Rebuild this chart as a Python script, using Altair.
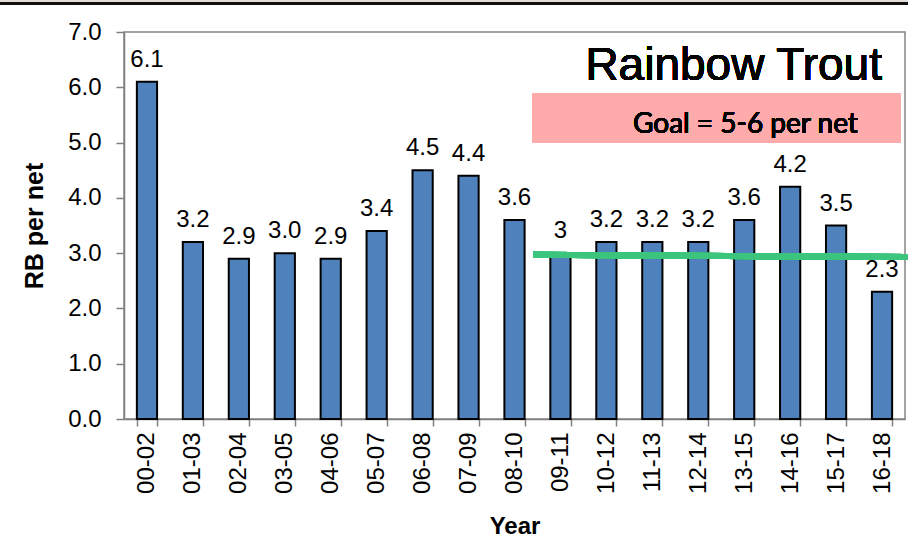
import altair as alt
import pandas as pd

# Rainbow trout catch per net, three-year rolling periods
periods = ["00-02", "01-03", "02-04", "03-05", "04-06", "05-07", "06-08", "07-09",
           "08-10", "09-11", "10-12", "11-13", "12-14", "13-15", "14-16", "15-17", "16-18"]
rb_per_net = [6.1, 3.2, 2.9, 3.0, 2.9, 3.4, 4.5, 4.4, 3.6, 3.0, 3.2, 3.2, 3.2, 3.6, 4.2, 3.5, 2.3]
value_labels = ["6.1", "3.2", "2.9", "3.0", "2.9", "3.4", "4.5", "4.4", "3.6", "3",
                "3.2", "3.2", "3.2", "3.6", "4.2", "3.5", "2.3"]

# recent-period reference line (start and end level)
ref_start, ref_end = 2.97, 2.93

df = pd.DataFrame({"period": periods, "value": rb_per_net, "label": value_labels})

W, H = 781, 387
FONT = "Liberation Sans"

x_enc = alt.X(
    "period:N",
    sort=periods,
    title="Year",
    scale=alt.Scale(paddingInner=0.56, paddingOuter=0.28),
    axis=alt.Axis(
        labelAngle=-90, labelAlign="right", labelBaseline="middle",
        labelFontSize=24, labelFont=FONT, labelColor="black", labelPadding=6,
        tickBand="extent", tickSize=7, tickColor="#808080", tickWidth=1.5,
        domainColor="#808080", domainWidth=1.5,
        titleFont=FONT, titleFontSize=24, titleFontWeight="bold", titleColor="black",
        titlePadding=21,
    ),
)
y_enc = alt.Y(
    "value:Q",
    title="RB per net",
    scale=alt.Scale(domain=[0, 7], nice=False, zero=True),
    axis=alt.Axis(
        values=[0, 1, 2, 3, 4, 5, 6, 7], format=".1f", grid=False,
        labelFontSize=24, labelFont=FONT, labelColor="black", labelPadding=15,
        tickSize=8, tickColor="#808080", tickWidth=1.5,
        domainColor="#808080", domainWidth=1.5,
        titleFont=FONT, titleFontSize=25, titleFontWeight="bold", titleColor="black",
        titlePadding=20,
    ),
)

bars = alt.Chart(df).mark_bar(
    color="#4F81BD", stroke="black", strokeWidth=2
).encode(x=x_enc, y=y_enc)

labels = alt.Chart(df).mark_text(
    font=FONT, fontSize=24, fontWeight=400, color="black", baseline="alphabetic", dy=-15
).encode(x=alt.X("period:N", sort=periods), y="value:Q", text="label:N")

ref_line = alt.Chart(df).mark_rule(
    color="#3CC47C", strokeWidth=6, opacity=0.85, strokeCap="butt"
).encode(
    x=alt.value(409), x2=alt.value(784),
    y=alt.datum(ref_start), y2=alt.datum(ref_end),
)

goal_box = alt.Chart(df).mark_rect(color="#FFABAB").encode(
    x=alt.value(408), x2=alt.value(777), y=alt.value(61), y2=alt.value(111)
)
goal_text = alt.Chart(df).mark_text(
    text="Goal = 5-6 per net", font="Lato", fontSize=28, fontWeight=400, color="black",
    align="left", baseline="alphabetic"
).encode(x=alt.value(509), y=alt.value(101))

species_title = alt.Chart(df).mark_text(
    text="Rainbow Trout", font=FONT, fontSize=46, fontWeight=400, color="black",
    align="right", baseline="alphabetic"
).encode(x=alt.value(758), y=alt.value(48))

# slide header rule across the top edge
header_band = alt.Chart(df).mark_rect(color="#E4DCD6").encode(
    x=alt.value(-124), x2=alt.value(784), y=alt.value(-32), y2=alt.value(-29.5)
)
header_rule = alt.Chart(df).mark_rule(color="#111111", strokeWidth=1.5).encode(
    x=alt.value(-124), x2=alt.value(784), y=alt.value(-28.5)
)

chart = alt.layer(
    header_band, header_rule, goal_box, bars, ref_line, labels, goal_text, species_title
).properties(
    width=W, height=H,
    autosize=alt.AutoSizeParams(type="none"),
    padding={"left": 124, "top": 32, "right": 3, "bottom": 123},
    background="white",
).configure_view(stroke="#868686", strokeWidth=1.5)

chart.save("out.html", embed_options={"renderer": "svg", "actions": False})
